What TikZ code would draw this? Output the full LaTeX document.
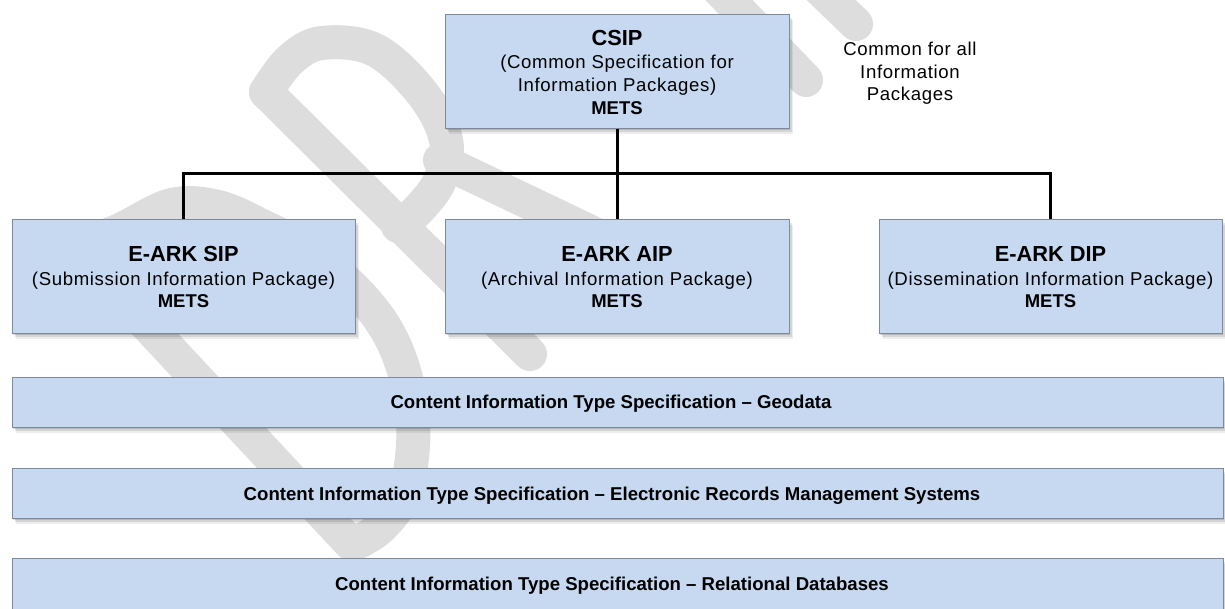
\documentclass[tikz,border=0pt]{standalone}
\usepackage{fontspec}
\setmainfont{Liberation Sans}
\newfontfamily\spaced[LetterSpace=3.5]{Liberation Sans}
\usetikzlibrary{shadows}
\definecolor{boxfill}{RGB}{198,217,241}
\definecolor{boxline}{RGB}{125,138,158}
\definecolor{wmgray}{RGB}{221,221,221}
\begin{document}
\begin{tikzpicture}[x=1pt,y=-1pt,
  wm/.style={draw=wmgray, line width=34pt, line cap=round, line join=round},
  boxshadow/.style={
    drop shadow={shadow xshift=1pt,shadow yshift=-2pt,opacity=.14,fill=black},
    drop shadow={shadow xshift=2.5pt,shadow yshift=-3.5pt,opacity=.10,fill=black},
    drop shadow={shadow xshift=4pt,shadow yshift=-5.5pt,opacity=.07,fill=black}},
  pkg/.style={draw=boxline, line width=0.9pt, fill=boxfill, inner sep=0pt,
    anchor=north west, boxshadow},
  title/.style={anchor=base, font=\bfseries\fontsize{21.8}{24}\selectfont},
  sub/.style={anchor=base, font=\spaced\fontsize{18.6}{22}\selectfont},
  mets/.style={anchor=base, font=\bfseries\fontsize{18.5}{22}\selectfont},
  bartext/.style={anchor=base, font=\bfseries\fontsize{18.6}{22}\selectfont},
  conn/.style={draw=black, line width=3pt, line join=miter}]
\useasboundingbox (0,0) rectangle (1225,608);
\fill[white] (0,0) rectangle (1225,608);

% watermark
\draw[wm] plot[smooth, tension=0.6] coordinates {(75,248) (120,230) (172,205) (218,207) (262,226) (310,252) (360,295) (392,340) (410,395) (413,445) (404,495) (380,528) (352,545)} -- cycle;
\draw[wm] (530,354) -- (266,92);
\draw[wm] plot[smooth, tension=0.6] coordinates {(266,92) (290,60) (322,43) (375,50) (422,93) (446,140) (440,180) (418,210) (398,226)};
\draw[wm] (440,160) -- (645,258);
\draw[wm] (806,80) -- (700,-30);
\draw[wm] (856,24) -- (800,-30);

% packages
\node[pkg, minimum width=344pt, minimum height=114pt] (csip) at (445,14) {};
\node[pkg, minimum width=343pt, minimum height=114pt] (sip) at (12,219) {};
\node[pkg, minimum width=344pt, minimum height=114pt] (aip) at (445,219) {};
\node[pkg, minimum width=343pt, minimum height=114pt] (dip) at (879,219) {};
\node[pkg, minimum width=1211pt, minimum height=50pt] (geo) at (12,377) {};
\node[pkg, minimum width=1211pt, minimum height=50pt] (erms) at (12,468) {};
\node[pkg, minimum width=1211pt, minimum height=60pt] (rdb) at (12,558) {};

% connectors
\coordinate (bus) at (617,173);
\draw[conn] (csip.south) -- (aip.north);
\draw[conn] (sip.north) |- (bus);
\draw[conn] (dip.north) |- (bus);

% texts
\node[title] (csipt) at (617,45) {CSIP};
\node[sub] (csips1) at (617,68) {(Common Specification for};
\node[sub] (csips2) at (617,91) {Information Packages)};
\node[mets] (csipm) at (617,114) {METS};

\node[title] (sipt) at (183.5,261) {E-ARK SIP};
\node[sub] (sips) at (183.5,285) {(Submission Information Package)};
\node[mets] (sipm) at (183.5,307) {METS};

\node[title] (aipt) at (617,261) {E-ARK AIP};
\node[sub] (aips) at (617,285) {(Archival Information Package)};
\node[mets] (aipm) at (617,307) {METS};

\node[title] (dipt) at (1050.5,261) {E-ARK DIP};
\node[sub] (dips) at (1050.5,285) {(Dissemination Information Package)};
\node[mets] (dipm) at (1050.5,307) {METS};

\node[sub] (c1) at (910,55) {Common for all};
\node[sub] (c2) at (910,78) {Information};
\node[sub] (c3) at (910,100) {Packages};

\node[bartext] (geot) at (611,408) {Content Information Type Specification -- Geodata};
\node[bartext] (ermst) at (612,500) {Content Information Type Specification -- Electronic Records Management Systems};
\node[bartext] (rdbt) at (612,590) {Content Information Type Specification -- Relational Databases};
\end{tikzpicture}
\end{document}
